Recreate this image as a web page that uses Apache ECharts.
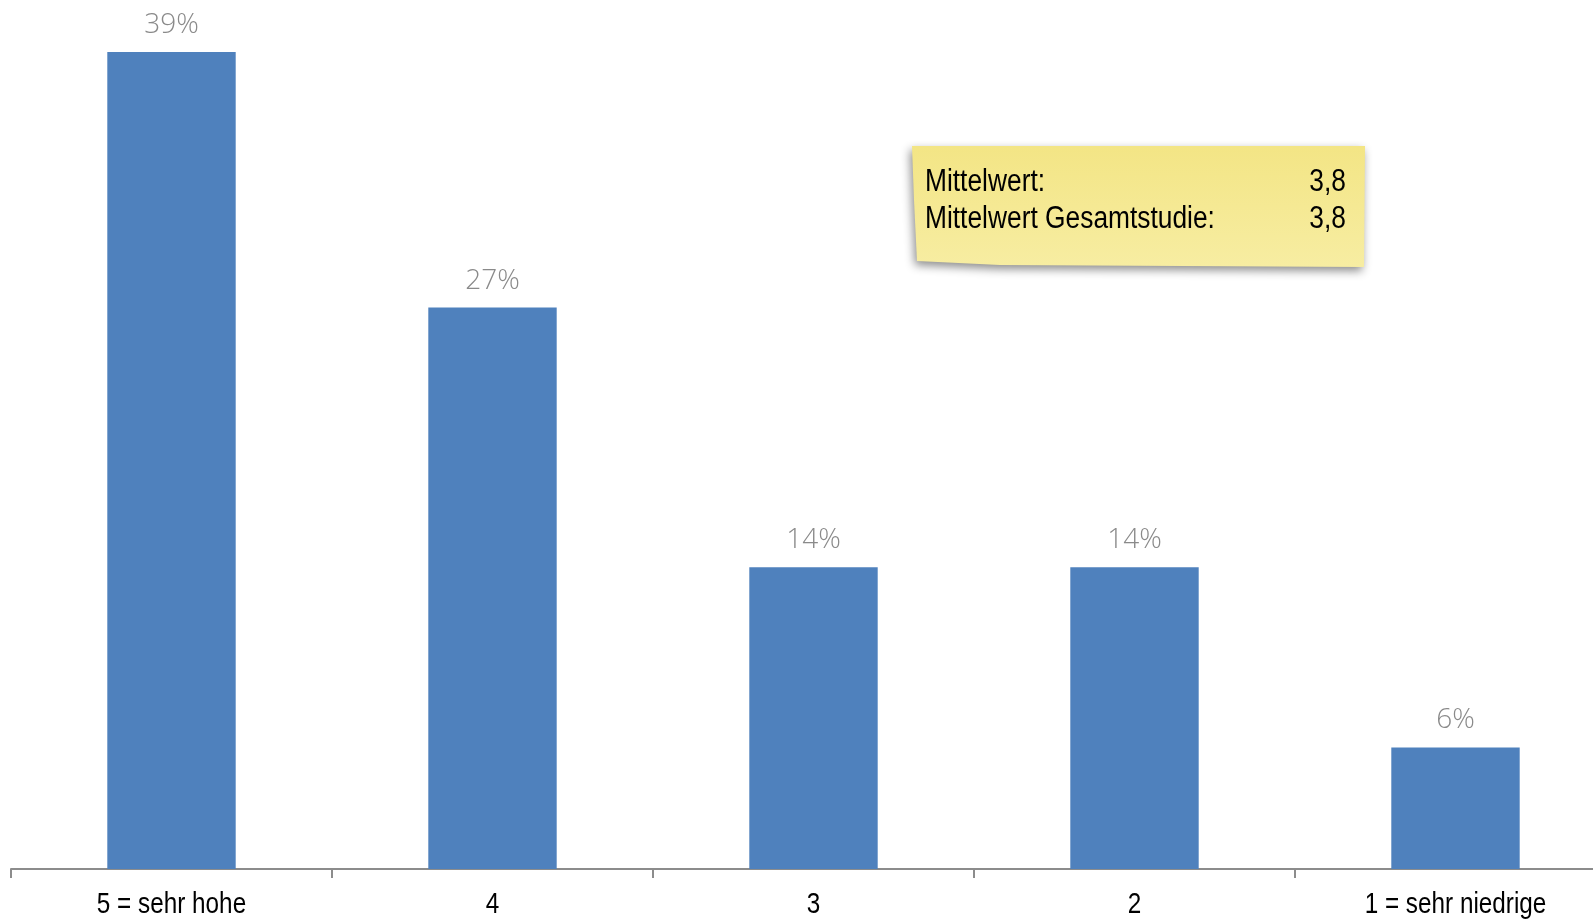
<!DOCTYPE html>
<html><head><meta charset="utf-8">
<script src="https://cdn.jsdelivr.net/npm/echarts@6/dist/echarts.min.js"></script>
<style>html,body{margin:0;padding:0;background:#fff;overflow:hidden}#c{width:100vw;height:100vh}</style>
</head><body><div id="c"></div>
<script>
var categories = ['5 = sehr hohe', '4', '3', '2', '1 = sehr niedrige'];
var values = [39, 26.8, 14.4, 14.4, 5.8];
var noteLabels = ['Mittelwert:', 'Mittelwert Gesamtstudie:'];
var noteValues = ['3,8', '3,8'];

var arial = "'Liberation Sans',Arial,sans-serif";
var chart = echarts.init(document.getElementById('c'));
chart.setOption({
  animation: false,
  grid: {left: 11, width: 1605, top: 31, bottom: 53, containLabel: false, outerBoundsMode: 'none'},
  xAxis: {
    type: 'category', data: categories,
    axisLine: {lineStyle: {color: '#8c8c8c', width: 2}},
    axisTick: {show: true, length: 9, lineStyle: {color: '#8c8c8c', width: 2}},
    axisLabel: {show: false}
  },
  yAxis: {type: 'value', min: 0, max: 40, show: false, splitLine: {show: false}},
  series: [{
    type: 'bar', data: values, barWidth: '40%',
    itemStyle: {color: '#4F81BD'},
    label: {show: true, position: 'top', distance: 13, color: '#8a8a8a', fontSize: 28,
      fontFamily: "'Open Sans',sans-serif", fontWeight: 300,
      formatter: function (p) { return Math.round(p.value) + '%'; }}
  }]
});

function narrowText(x, y, text, align, size, sx) {
  return {type: 'text', x: x, y: y, scaleX: sx, z: 5,
    style: {text: text, fill: '#000', fontSize: size, fontFamily: arial, align: align, verticalAlign: 'middle'}};
}
var g = [];
var axisY = chart.convertToPixel({yAxisIndex: 0}, 0);
categories.forEach(function (c, i) {
  var x = chart.convertToPixel({xAxisIndex: 0}, i);
  g.push(narrowText(x, axisY + 36, c, 'center', 30, 0.81));
});
g.push({type: 'polygon', z: 2,
  shape: {points: [[912, 146], [1365, 146], [1364, 267], [1000, 265], [917, 261], [914, 200]]},
  style: {fill: new echarts.graphic.LinearGradient(0, 0, 0, 1, [{offset: 0, color: '#F3E585'}, {offset: 1, color: '#F7EDA2'}]),
    shadowBlur: 10, shadowOffsetX: -2, shadowOffsetY: 4, shadowColor: 'rgba(0,0,0,0.45)'}});
g.push(narrowText(925, 182, noteLabels[0], 'left', 31, 0.85));
g.push(narrowText(925, 219, noteLabels[1], 'left', 31, 0.85));
g.push(narrowText(1346, 182, noteValues[0], 'right', 31, 0.85));
g.push(narrowText(1346, 219, noteValues[1], 'right', 31, 0.85));
chart.setOption({graphic: g});
</script></body></html>
